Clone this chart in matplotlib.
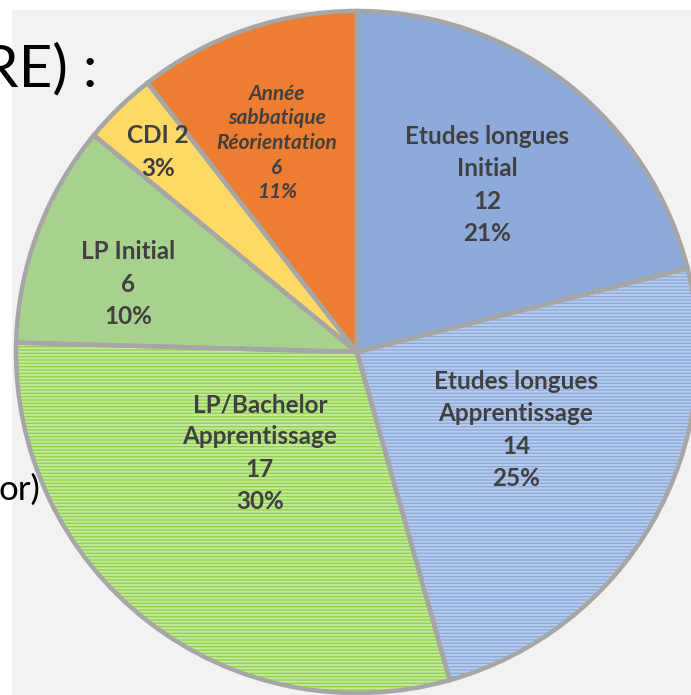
import matplotlib
matplotlib.use("Agg")
import matplotlib.pyplot as plt
from matplotlib.patches import Rectangle

# ---- data ----
categories = ["Etudes longues\nInitial", "Etudes longues\nApprentissage",
              "LP/Bachelor\nApprentissage", "LP Initial", "CDI", "Année\nsabbatique\nRéorientation"]
values = [12, 14, 17, 6, 2, 6]
pct_labels = ["21%", "25%", "30%", "10%", "3%", "11%"]
label_texts = ["Etudes longues\nInitial\n12\n21%",
               "Etudes longues\nApprentissage\n14\n25%",
               "LP/Bachelor\nApprentissage\n17\n30%",
               "LP Initial\n6\n10%",
               "CDI 2\n3%",
               "Année\nsabbatique\nRéorientation\n6\n11%"]
striped = [False, True, True, False, False, False]

colors = ["#8eaadb", "#8eaadb", "#92d050", "#a9d18e", "#ffd966", "#ed7d31"]
stripe_colors = ["#b4c7e7", "#b8cbec", "#c4ea9c", "#a9d18e", "#ffd966", "#ed7d31"]

W, H = 691, 695
fig = plt.figure(figsize=(W / 100, H / 100), dpi=100)
fig.patch.set_facecolor("white")
ax = fig.add_axes([0, 0, 1, 1])

# gray slide background
ax.add_patch(Rectangle((12, 0), W - 12, H - 10, facecolor="#f2f2f2", edgecolor="none", zorder=0))

cx, cy, r = 357, H - 352, 341
plt.rcParams["hatch.linewidth"] = 1.4

wedges, _ = ax.pie(values, startangle=90, counterclock=False, center=(cx, cy), radius=r,
                   colors=colors, wedgeprops=dict(linewidth=0), frame=True)
for w in wedges:
    w.set_zorder(1)

hw, _ = ax.pie(values, startangle=90, counterclock=False, center=(cx, cy), radius=r,
               colors=["none"] * len(values), wedgeprops=dict(linewidth=0), frame=True)
for w, s, sc in zip(hw, striped, stripe_colors):
    w.set_zorder(2)
    if s:
        w.set_hatch("-----")
        w.set_edgecolor(sc)
        w.set_linewidth(0)
    else:
        w.set_visible(False)

bw, _ = ax.pie(values, startangle=90, counterclock=False, center=(cx, cy), radius=r,
               colors=["none"] * len(values),
               wedgeprops=dict(linewidth=3.2, edgecolor="#a6a6a6"), frame=True)
for w in bw:
    w.set_zorder(3)

# labels (pixel positions from top-left)
fam = ["Lato", "DejaVu Sans"]
tc = "#404040"
pos = [(487, 185), (516, 430), (260, 453), (128, 284), (158, 152), (277, 143)]
for i, (t, (x, y)) in enumerate(zip(label_texts, pos)):
    if i == 5:
        ax.text(x, H - y, t, ha="center", va="center", fontsize=15, fontweight="bold",
                style="italic", color=tc, family=fam, linespacing=1.29, zorder=5)
    else:
        ax.text(x, H - y, t, ha="center", va="center", fontsize=17.5, fontweight="bold",
                color=tc, family=fam, linespacing=1.48, zorder=5)

# background slide text fragments
ax.text(97, H - 70, "RE) :", ha="right", va="center", fontsize=42, color="black",
        family=fam, zorder=0.5)
ax.text(40, H - 490, "or)", ha="right", va="center", fontsize=25, color="black",
        family=fam, zorder=0.5)

ax.set_xlim(0, W)
ax.set_ylim(0, H)
ax.set_aspect("auto")
ax.set_axis_off()
fig.savefig("out.png", dpi=100, facecolor="white")
